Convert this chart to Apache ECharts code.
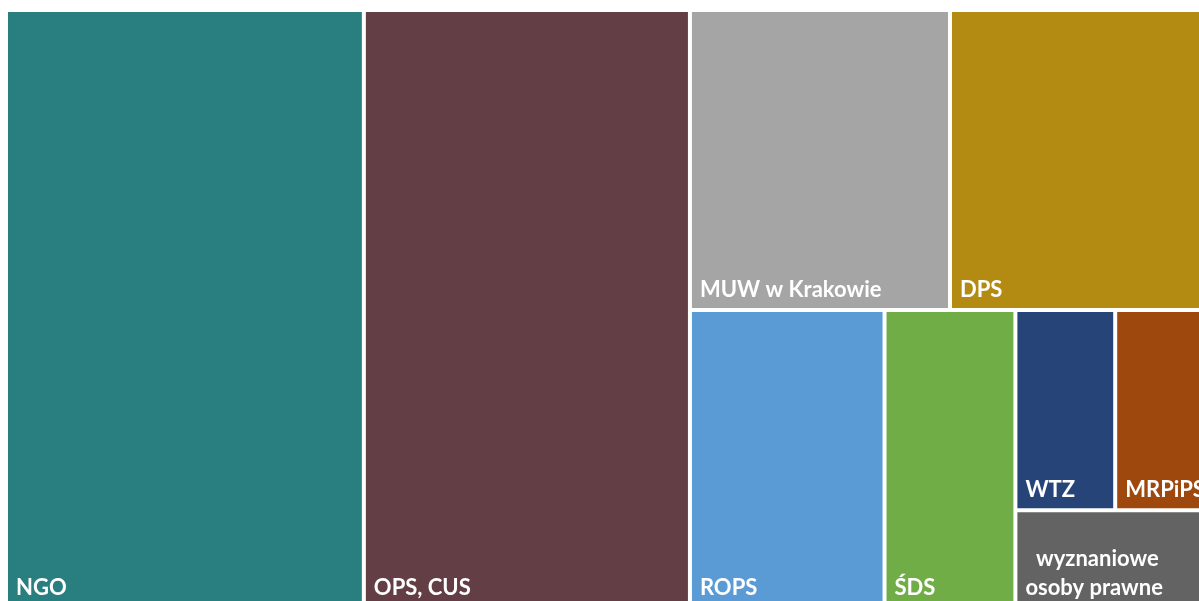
<!DOCTYPE html>
<html>
<head>
<meta charset="utf-8">
<script src="https://cdn.jsdelivr.net/npm/echarts@6/dist/echarts.min.js"></script>
<style>
html, body { margin: 0; padding: 0; background: #fff; }
#main { width: 1199px; height: 601px; }
</style>
</head>
<body>
<div id="main"></div>
<script>
// values (relative areas)
const names = ['NGO', 'OPS, CUS', 'MUW w Krakowie', 'DPS', 'ROPS', 'ŚDS', 'WTZ', 'MRPiPS', 'wyznaniowe osoby prawne'];
const values = [214, 195, 78, 78, 58, 39, 20, 19, 19];
const colors = ['#297F7F', '#633E45', '#A5A5A5', '#B38B13', '#5B9BD5', '#70AD47', '#264478', '#9E480E', '#636363'];

const leaf = i => ({ name: names[i], value: values[i], itemStyle: { color: colors[i] } });
const group = children => ({ name: '', children: children });

// nesting only to get the same block arrangement as the original
const treeData = [
  leaf(0),
  leaf(1),
  group([
    group([leaf(2), leaf(3)]),
    group([leaf(4), leaf(5), group([group([leaf(6), leaf(7)]), leaf(8)])])
  ])
];

const myChart = echarts.init(document.getElementById('main'));
const option = {
  animation: false,
  series: [
    {
      type: 'treemap',
      left: 8,
      top: 12,
      width: 1200,
      height: 594,
      sort: false,
      squareRatio: 1.065,
      roam: false,
      nodeClick: false,
      breadcrumb: { show: false },
      visibleMin: 0,
      itemStyle: {
        borderWidth: 0,
        gapWidth: 4,
        borderColor: '#fff'
      },
      label: {
        show: true,
        position: 'insideBottomLeft',
        distance: 0,
        padding: [0, 0, 4, 8],
        color: '#fff',
        fontFamily: 'Lato',
        fontWeight: 'bold',
        fontSize: 22,
        lineHeight: 29,
        overflow: 'none',
        formatter: p => p.name.length > 20 ? '  ' + p.name.replace(' ', '\n') : p.name
      },
      upperLabel: { show: false },
      data: treeData
    }
  ]
};
option && myChart.setOption(option);
</script>
</body>
</html>
